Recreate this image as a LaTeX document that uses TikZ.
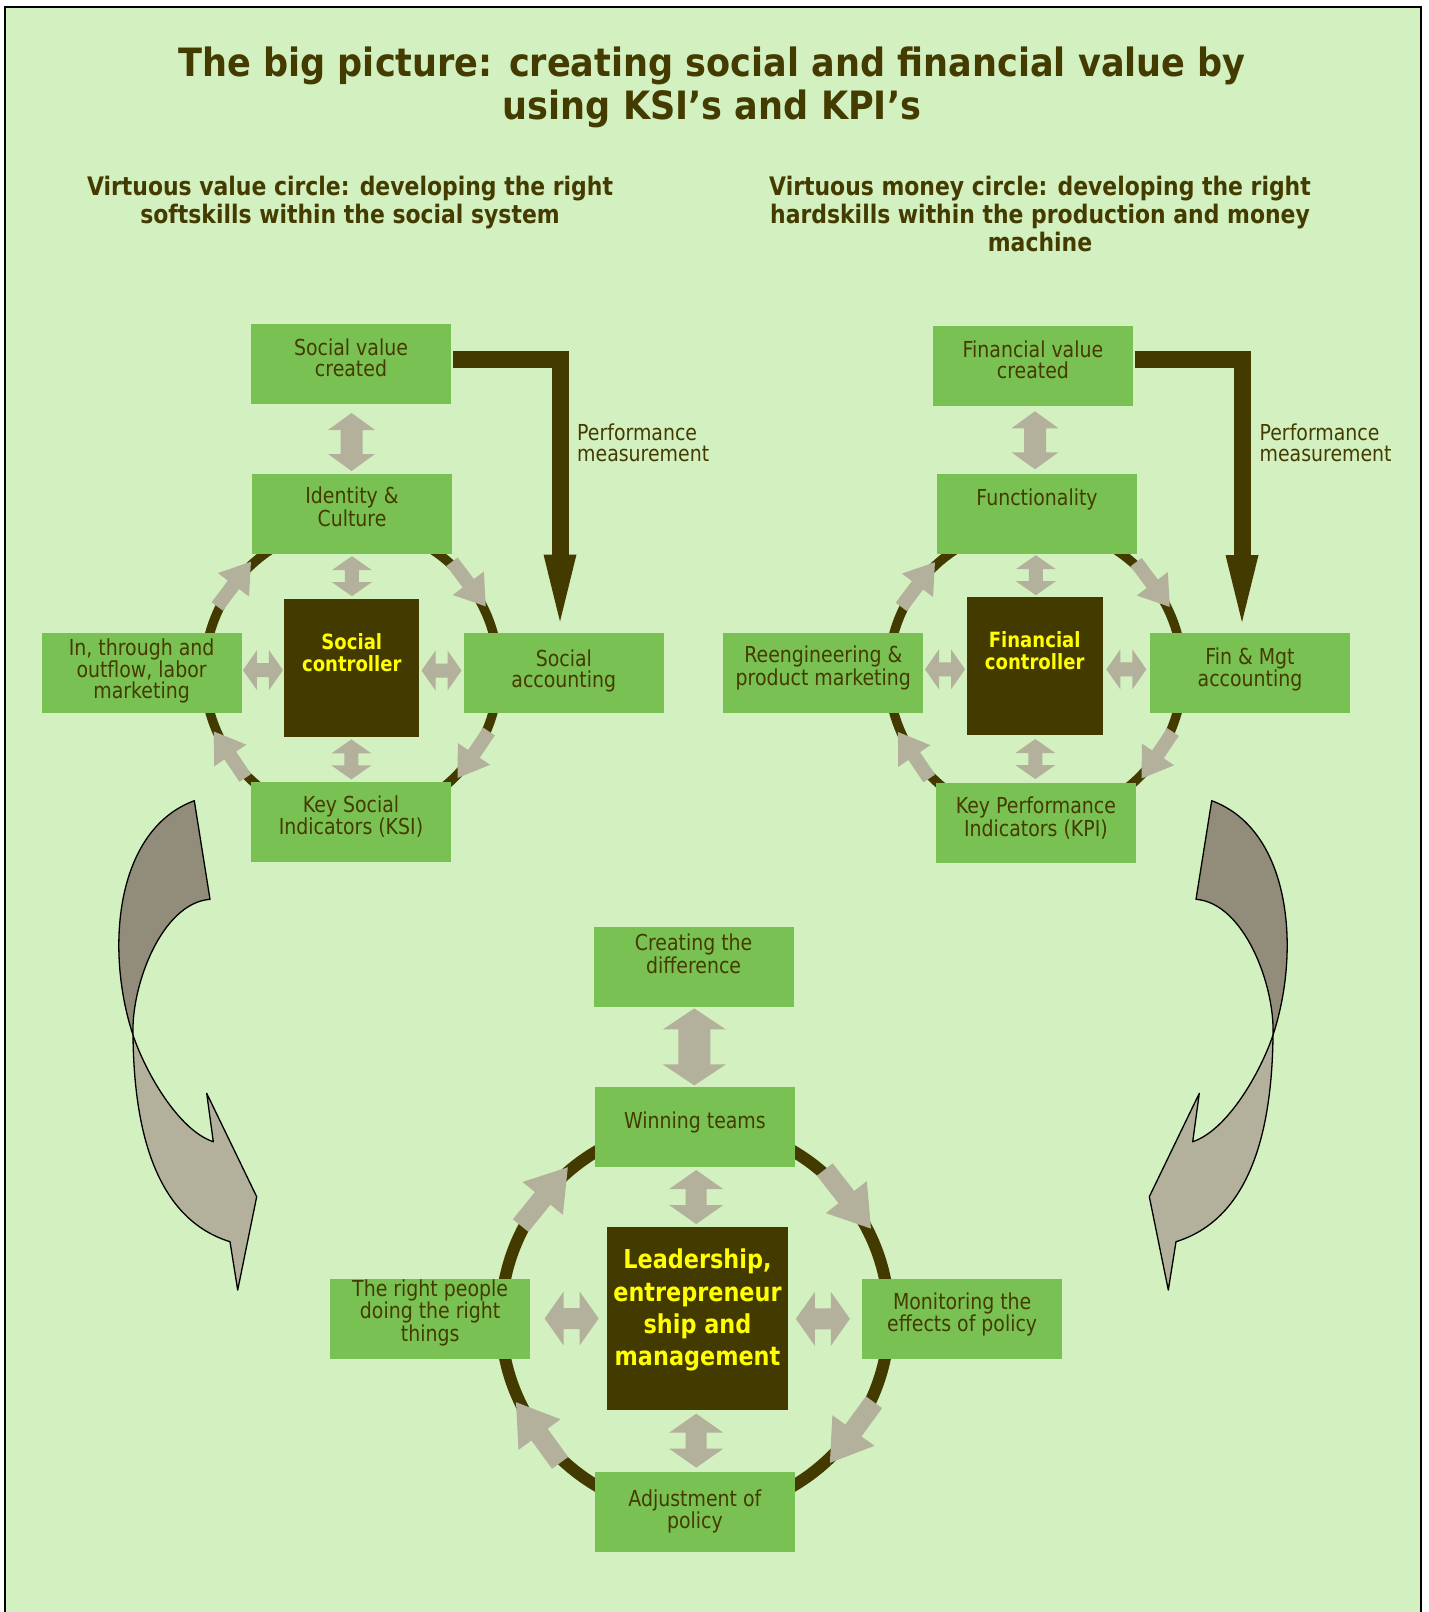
\documentclass[tikz,border=0pt]{standalone}
\usepackage{fontspec}
\setmainfont{DejaVu Sans}[FakeStretch=0.86]
\newfontfamily\headfont{DejaVu Sans}[FakeStretch=0.9]
\usetikzlibrary{calc}

\definecolor{bg}{RGB}{211,240,192}
\definecolor{boxgreen}{RGB}{121,193,83}
\definecolor{ink}{RGB}{67,58,0}
\definecolor{txt}{RGB}{68,59,0}
\definecolor{arrowgray}{RGB}{179,177,155}
\definecolor{ribbondark}{RGB}{145,141,122}
\definecolor{ctrlyellow}{RGB}{255,255,0}

% double-headed block arrow along the x axis, centred at the origin
% #1 length, #2 shaft width, #3 head width, #4 head length
\newcommand{\dblarrow}[4]{%
  \fill[arrowgray] ({-#1/2},0) -- ({-#1/2+#4},{-#3/2}) -- ({-#1/2+#4},{-#2/2})
    -- ({#1/2-#4},{-#2/2}) -- ({#1/2-#4},{-#3/2}) -- ({#1/2},0)
    -- ({#1/2-#4},{#3/2}) -- ({#1/2-#4},{#2/2}) -- ({-#1/2+#4},{#2/2})
    -- ({-#1/2+#4},{#3/2}) -- cycle;}

% single block arrow along the x axis, tail at -#1/2, tip at +#1/2
\newcommand{\blockarrow}[4]{%
  \fill[arrowgray] ({-#1/2},{-#2/2}) -- ({#1/2-#4},{-#2/2}) -- ({#1/2-#4},{-#3/2})
    -- ({#1/2},0) -- ({#1/2-#4},{#3/2}) -- ({#1/2-#4},{#2/2}) -- ({-#1/2},{#2/2}) -- cycle;}

% clockwise arrow sitting on a ring: #1 centre, #2 radius, #3 angle,
% #4 length, #5 shaft, #6 head width, #7 head length
\newcommand{\cyclearrow}[7]{%
  \begin{scope}[shift={($(#1)+({#2*cos(#3)},{-#2*sin(#3)})$)}, rotate={#3-90}]
    \blockarrow{#4}{#5}{#6}{#7}
  \end{scope}}

% double arrow between two anchors: #1 from, #2 to, #3 position ratio,
% #4 rotation, #5..#8 sizes
\newcommand{\linkarrow}[8]{%
  \begin{scope}[shift={($(#1)!#3!(#2)$)}, rotate=#4]
    \dblarrow{#5}{#6}{#7}{#8}
  \end{scope}}

\tikzset{
  greenbox/.style={fill=boxgreen, minimum width=200pt, minimum height=80pt, inner sep=0pt, outer sep=0pt},
  darkbox/.style={fill=ink, inner sep=0pt, outer sep=0pt},
  lbl/.style={text=txt, font=\fontsize{22}{20.8}\selectfont, align=center, anchor=base, inner sep=0pt},
  ctrllbl/.style={text=ctrlyellow, font=\bfseries\fontsize{21}{21.5}\selectfont, align=center, anchor=base, inner sep=0pt},
  heading/.style={text=txt, align=center, anchor=base, inner sep=0pt},
  ringline/.style={draw=ink, line width=9.3pt},
  perfline/.style={draw=ink, line width=17pt, line join=miter},
  ribbon/.style={draw=black, line width=1.3pt, line join=round},
}

\begin{document}
\begin{tikzpicture}[x=1pt, y=-1pt]
\useasboundingbox (0,0) rectangle (1428,1612);

% page frame
\fill[white] (0,0) rectangle (1428,1612);
\fill[bg] (5.3,7.3) rectangle (1421,1612);
\draw[black, line width=2.2pt] (5.3,1612) -- (5.3,7.3) -- (1421,7.3) -- (1421,1612);

% headings (node base = baseline of the last line)
\node[heading, font=\headfont\bfseries\fontsize{39}{42.8}\selectfont]
  (title) at (712,119.5) {The big picture: creating social and financial value by\\using KSI’s and KPI’s};
\node[heading, font=\bfseries\fontsize{25.5}{28.4}\selectfont]
  (subL) at (350,223.4) {Virtuous value circle: developing the right\\softskills within the social system};
\node[heading, font=\bfseries\fontsize{25.5}{28.4}\selectfont]
  (subR) at (1040,251.8) {Virtuous money circle: developing the right\\hardskills within the production and money\\machine};

% twisted ribbon arrows leading down to the bottom cycle
\begin{scope}
  \filldraw[ribbon, fill=ribbondark] (194.3,800.7) .. controls (115,830) and (105,950) .. (133,1035)
    .. controls (131,985) and (162,903) .. (210,899.3) -- cycle;
  \filldraw[ribbon, fill=arrowgray] (133,1035) .. controls (145,1071) and (178,1130) .. (213.3,1141.7)
    -- (206.7,1093.3) -- (256.7,1196.7) -- (237.7,1290) -- (230,1241.7)
    .. controls (160,1220) and (134,1140) .. (133,1035) -- cycle;
\end{scope}
\begin{scope}[xshift=1406pt, xscale=-1]
  \filldraw[ribbon, fill=ribbondark] (194.3,800.7) .. controls (115,830) and (105,950) .. (133,1035)
    .. controls (131,985) and (162,903) .. (210,899.3) -- cycle;
  \filldraw[ribbon, fill=arrowgray] (133,1035) .. controls (145,1071) and (178,1130) .. (213.3,1141.7)
    -- (206.7,1093.3) -- (256.7,1196.7) -- (237.7,1290) -- (230,1241.7)
    .. controls (160,1220) and (134,1140) .. (133,1035) -- cycle;
\end{scope}

% cycle rings
\coordinate (ringL) at (351.5,672.5);
\coordinate (ringR) at (1035.5,673);
\coordinate (ringB) at (695,1318.5);
\draw[ringline] (ringL) circle[radius=147];
\draw[ringline] (ringR) circle[radius=147];
\draw[ringline, line width=12pt] (ringB) circle[radius=194];

% ---- social cycle ----
\node[greenbox] (svc) at (351,363.5) {};
\node[greenbox] (idc) at (352,513.5) {};
\node[darkbox, minimum width=135pt, minimum height=138pt] (sctrl) at (351.8,667.8) {};
\node[greenbox] (inflow) at (141.6,672.5) {};
\node[greenbox] (sacc) at (563.8,673.3) {};
\node[greenbox] (ksi) at (351,822) {};

\node[lbl] (svct) at (351,376.3) {Social value\\created};
\node[lbl] (idct) at (352,526.1) {Identity \&\\Culture};
\node[ctrllbl] (sctrlt) at (351.8,671.1) {Social\\controller};
\node[lbl] (inflowt) at (141.6,698.6) {In, through and\\outflow, labor\\marketing};
\node[lbl] (sacct) at (563.8,687.1) {Social\\accounting};
\node[lbl] (ksit) at (351,834.8) {Key Social\\Indicators (KSI)};

% ---- financial cycle ----
\node[greenbox] (fvc) at (1032.9,365.7) {};
\node[greenbox] (func) at (1037,513.5) {};
\node[darkbox, minimum width=136pt, minimum height=138pt] (fctrl) at (1034.7,665.9) {};
\node[greenbox] (reeng) at (823.3,672.8) {};
\node[greenbox] (finm) at (1250,672.8) {};
\node[greenbox] (kpi) at (1035.9,823.2) {};

\node[lbl] (fvct) at (1032.9,378.1) {Financial value\\created};
\node[lbl] (funct) at (1037,505.3) {Functionality};
\node[ctrllbl] (fctrlt) at (1034.7,669.3) {Financial\\controller};
\node[lbl] (reengt) at (823.3,685.2) {Reengineering \&\\product marketing};
\node[lbl] (finmt) at (1250,686.3) {Fin \& Mgt\\accounting};
\node[lbl] (kpit) at (1035.9,836.1) {Key Performance\\Indicators (KPI)};

% ---- leadership cycle ----
\node[greenbox] (cdiff) at (693.6,966.5) {};
\node[greenbox] (win) at (694.9,1127.3) {};
\node[darkbox, minimum width=181pt, minimum height=183pt] (lead) at (697.5,1318.3) {};
\node[greenbox] (rpeople) at (430.1,1318.7) {};
\node[greenbox] (monit) at (962.2,1319.4) {};
\node[greenbox] (adj) at (694.9,1511.5) {};

\node[lbl] (cdifft) at (693.6,973) {Creating the\\difference};
\node[lbl] (wint) at (694.9,1128.4) {Winning teams};
\node[text=ctrlyellow, font=\bfseries\fontsize{26}{32.2}\selectfont, align=center, anchor=base, inner sep=0pt]
  (leadt) at (697.5,1365.4) {Leadership,\\entrepreneur\\ship and\\management};
\node[lbl] (rpeoplet) at (430.1,1341.2) {The right people\\doing the right\\things};
\node[lbl] (monitt) at (962.2,1331.8) {Monitoring the\\effects of policy};
\node[lbl] (adjt) at (694.9,1528.4) {Adjustment of\\policy};

% arrows around the rings (clockwise)
\foreach \a in {143,37,-34,-146} {
  \cyclearrow{ringL}{147}{\a}{56}{14}{39}{29}
  \cyclearrow{ringR}{147}{\a}{56}{14}{39}{29}
}
\foreach \a in {141,38,-36,-144} {
  \cyclearrow{ringB}{194}{\a}{75}{20}{52}{40}
}

% two-way links between the boxes
\linkarrow{svc.south}{idc.north}{0.55}{90}{58}{22}{47}{17}
\linkarrow{idc.south}{sctrl.north}{0.5}{90}{40}{14}{40}{14}
\linkarrow{sctrl.south}{ksi.north}{0.5}{90}{40}{14}{40}{14}
\linkarrow{inflow.east}{sctrl.west}{0.5}{0}{40}{14}{40}{14}
\linkarrow{sctrl.east}{sacc.west}{0.5}{0}{40}{14}{40}{14}

\linkarrow{fvc.south}{func.north}{0.51}{90}{58}{22}{47}{17}
\linkarrow{func.south}{fctrl.north}{0.5}{90}{40}{14}{40}{14}
\linkarrow{fctrl.south}{kpi.north}{0.5}{90}{40}{14}{40}{14}
\linkarrow{reeng.east}{fctrl.west}{0.5}{0}{40}{14}{40}{14}
\linkarrow{fctrl.east}{finm.west}{0.5}{0}{40}{14}{40}{14}

\linkarrow{cdiff.south}{win.north}{0.5}{90}{77}{32}{63}{21}
\linkarrow{win.south}{lead.north}{0.5}{90}{54}{21}{54}{19}
\linkarrow{lead.south}{adj.north}{0.5}{90}{54}{21}{54}{19}
\linkarrow{rpeople.east}{lead.west}{0.54}{0}{54}{21}{54}{19}
\linkarrow{lead.east}{monit.west}{0.47}{0}{54}{21}{54}{19}

% performance measurement feedback arrows
\coordinate (pmtipL) at (560,621.5);
\draw[perfline] ($(svc.east)+(2,-4)$) -| ($(pmtipL)+(0,-64)$);
\fill[ink] (pmtipL) -- ++(-16.5,-67) -- ++(33,0) -- cycle;
\node[lbl, align=left, anchor=base west] (pmL) at (577,461.4) {Performance\\measurement};

\coordinate (pmtipR) at (1242,622);
\draw[perfline] ($(fvc.east)+(2,-6.2)$) -| ($(pmtipR)+(0,-64)$);
\fill[ink] (pmtipR) -- ++(-16.5,-67) -- ++(33,0) -- cycle;
\node[lbl, align=left, anchor=base west] (pmR) at (1259.4,461.4) {Performance\\measurement};

\end{tikzpicture}
\end{document}
